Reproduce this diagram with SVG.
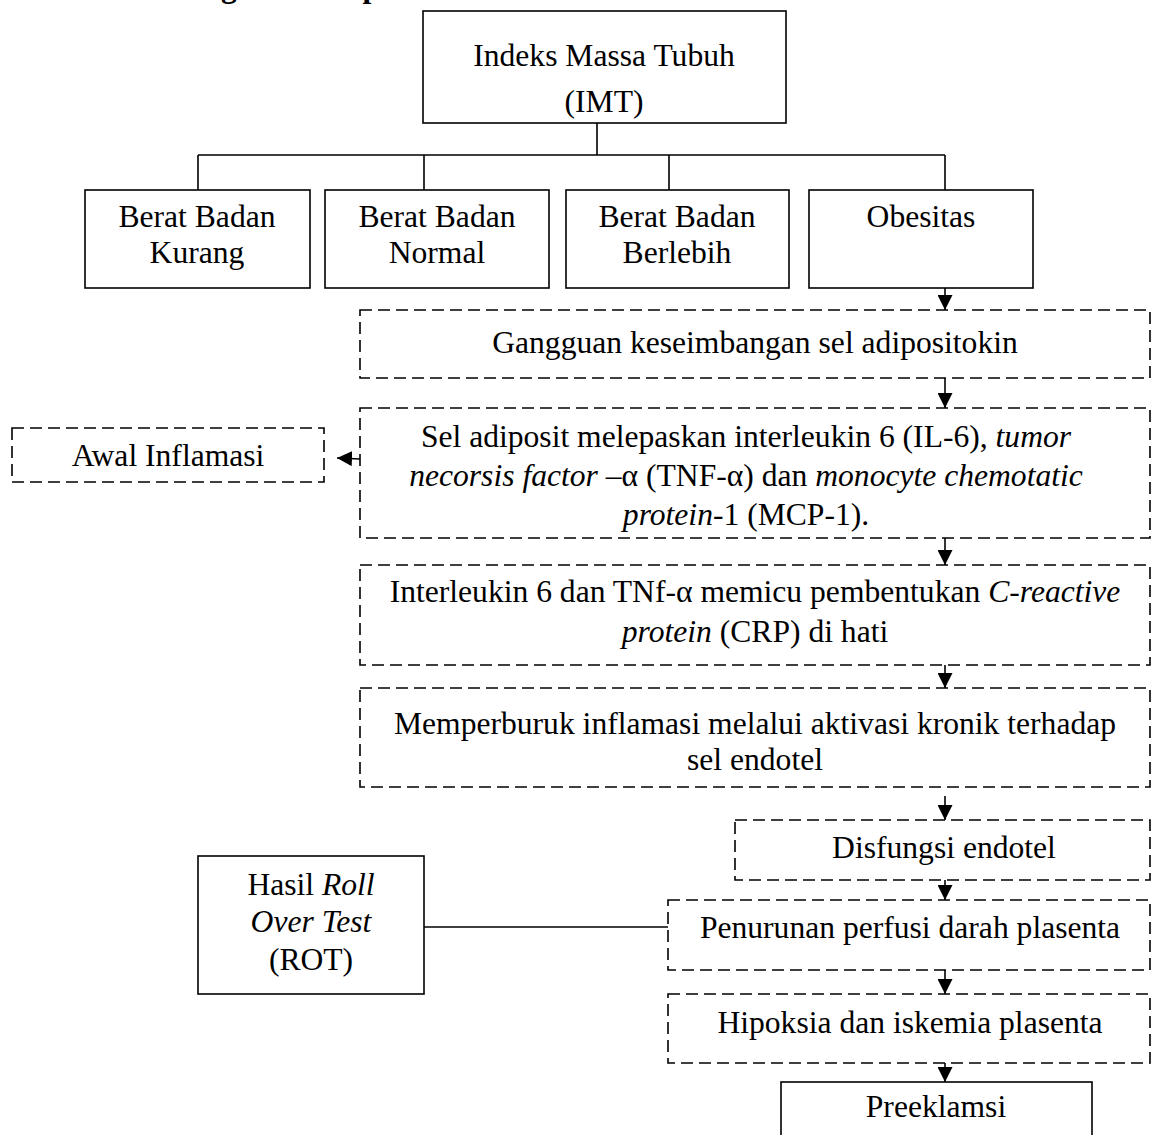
<svg xmlns="http://www.w3.org/2000/svg" width="1153" height="1135" viewBox="0 0 1153 1135">
<defs>
<style>
text{font-family:"Liberation Serif","Times New Roman",serif;font-size:31.6px;fill:#000;text-anchor:middle}
.i{font-style:italic}
.box{fill:#fff;stroke:#000;stroke-width:1.6}
.dash{fill:#fff;stroke:#000;stroke-width:1.6;stroke-dasharray:12 6}
.ln{fill:none;stroke:#000;stroke-width:1.6}
.h{font-weight:bold;text-anchor:end}
</style>
<marker id="ah" viewBox="0 0 10 10" refX="10" refY="5" markerWidth="15" markerHeight="15" markerUnits="userSpaceOnUse" orient="auto">
<path d="M0,0 L10,5 L0,10 z" fill="#000"/>
</marker>
</defs>
<rect width="1153" height="1135" fill="#fff"/>
<text class="h" x="380" y="-3">Kerangka Konsep</text>

<g id="connectors">
<path class="ln" d="M597,123 V155 M198,155 H945 M198,155 V190 M424,155 V190 M669,155 V190 M945,155 V190"/>
<line class="ln" x1="945" y1="288" x2="945" y2="310" marker-end="url(#ah)"/>
<line class="ln" x1="945" y1="368" x2="945" y2="408" marker-end="url(#ah)"/>
<line class="ln" x1="360" y1="459" x2="337" y2="458" marker-end="url(#ah)"/>
<line class="ln" x1="945" y1="538" x2="945" y2="565" marker-end="url(#ah)"/>
<line class="ln" x1="945" y1="665" x2="945" y2="688" marker-end="url(#ah)"/>
<line class="ln" x1="945" y1="796" x2="945" y2="820" marker-end="url(#ah)"/>
<line class="ln" x1="945" y1="873" x2="945" y2="900" marker-end="url(#ah)"/>
<line class="ln" x1="945" y1="970" x2="945" y2="994" marker-end="url(#ah)"/>
<line class="ln" x1="945" y1="1058" x2="945" y2="1082" marker-end="url(#ah)"/>
<line class="ln" x1="424" y1="927" x2="668" y2="927"/>
</g>

<g id="imt">
<rect class="box" x="423" y="11" width="363" height="112"/>
<text x="604" y="66">Indeks Massa Tubuh</text>
<text x="604" y="112">(IMT)</text>
</g>

<g id="bb-kurang">
<rect class="box" x="85" y="190" width="225" height="98"/>
<text x="197" y="227">Berat Badan</text>
<text x="197" y="263">Kurang</text>
</g>
<g id="bb-normal">
<rect class="box" x="325" y="190" width="224" height="98"/>
<text x="437" y="227">Berat Badan</text>
<text x="437" y="263">Normal</text>
</g>
<g id="bb-berlebih">
<rect class="box" x="566" y="190" width="223" height="98"/>
<text x="677" y="227">Berat Badan</text>
<text x="677" y="263">Berlebih</text>
</g>
<g id="obesitas">
<rect class="box" x="809" y="190" width="224" height="98"/>
<text x="921" y="227">Obesitas</text>
</g>

<g id="gangguan">
<rect class="dash" x="360" y="310" width="790" height="68"/>
<text x="755" y="353">Gangguan keseimbangan sel adipositokin</text>
</g>

<g id="awal-inflamasi">
<rect class="dash" x="12" y="428" width="312" height="54"/>
<text x="168" y="466">Awal Inflamasi</text>
</g>

<g id="sel-adiposit">
<rect class="dash" x="360" y="408" width="790" height="130"/>
<text x="746" y="447">Sel adiposit melepaskan interleukin 6 (IL-6), <tspan class="i">tumor</tspan></text>
<text x="746" y="486"><tspan class="i">necorsis factor</tspan> –α (TNF-α) dan <tspan class="i">monocyte chemotatic</tspan></text>
<text x="746" y="525"><tspan class="i">protein</tspan>-1 (MCP-1).</text>
</g>

<g id="interleukin">
<rect class="dash" x="360" y="565" width="790" height="100"/>
<text x="755" y="602">Interleukin 6 dan TNf-α memicu pembentukan <tspan class="i">C-reactive</tspan></text>
<text x="755" y="642"><tspan class="i">protein</tspan> (CRP) di hati</text>
</g>

<g id="memperburuk">
<rect class="dash" x="360" y="688" width="790" height="99"/>
<text x="755" y="734">Memperburuk inflamasi melalui aktivasi kronik terhadap</text>
<text x="755" y="770">sel endotel</text>
</g>

<g id="disfungsi">
<rect class="dash" x="735" y="820" width="415" height="60"/>
<text x="944" y="858">Disfungsi endotel</text>
</g>

<g id="rot">
<rect class="box" x="198" y="856" width="226" height="138"/>
<text x="311" y="895">Hasil <tspan class="i">Roll</tspan></text>
<text x="311" y="932" class="i">Over Test</text>
<text x="311" y="970">(ROT)</text>
</g>

<g id="penurunan">
<rect class="dash" x="668" y="900" width="482" height="70"/>
<text x="910" y="938">Penurunan perfusi darah plasenta</text>
</g>

<g id="hipoksia">
<rect class="dash" x="668" y="994" width="482" height="69"/>
<text x="910" y="1033">Hipoksia dan iskemia plasenta</text>
</g>

<g id="preeklamsi">
<rect class="box" x="781" y="1082" width="311" height="70"/>
<text x="936" y="1117">Preeklamsi</text>
</g>
</svg>
